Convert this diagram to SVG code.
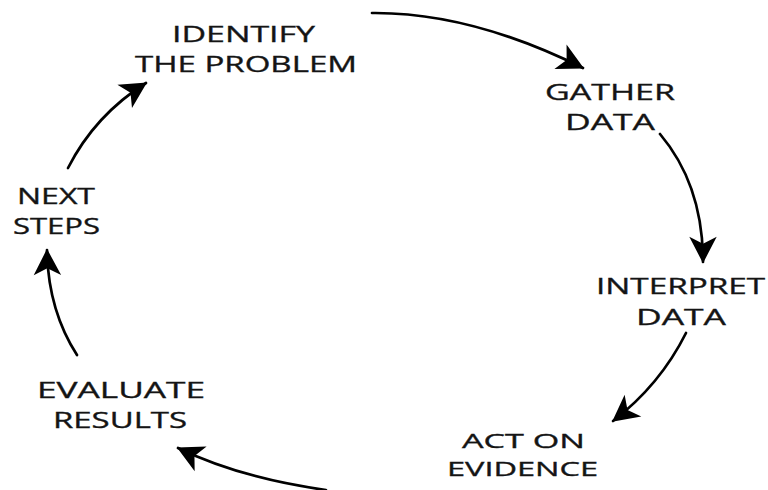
<svg xmlns="http://www.w3.org/2000/svg" width="768" height="490" viewBox="0 0 768 490">
  <defs>
    <style>
      .label { font-family: "Open Sans", "Noto Sans", "DejaVu Sans", sans-serif; font-size: 22px; font-weight: 500; fill: #141414; stroke: #141414; stroke-width: 0.35; text-anchor: middle; }
      .tight { font-size: 20.5px; }
      .edge { fill: none; stroke: #000; stroke-width: 2.7; stroke-linecap: round; }
    </style>
    <marker id="head" markerUnits="userSpaceOnUse" markerWidth="32" markerHeight="32" viewBox="-24 -14 26 28" refX="0" refY="0" orient="auto">
      <path d="M1,0 L-22,-12 L-16,0 L-22,12 Z" fill="#000"/>
    </marker>
  </defs>
  <rect width="768" height="490" fill="#fff"/>

  <!-- cycle connectors -->
  <g id="connectors">
    <path class="edge" marker-end="url(#head)" d="M372,13 Q470,12 583,68"/>
    <path class="edge" marker-end="url(#head)" d="M660,134 Q703,185 703,262"/>
    <path class="edge" marker-end="url(#head)" d="M686,333 Q660,385 613,421"/>
    <path class="edge" marker-end="url(#head)" d="M326,490 Q240,478 178,448"/>
    <path class="edge" marker-end="url(#head)" d="M77,355 Q48,310 47,250"/>
    <path class="edge" marker-end="url(#head)" d="M68,168 Q95,115 146,83"/>
  </g>

  <g id="identify">
    <text class="label" x="243.5" y="41.5" textLength="143" lengthAdjust="spacingAndGlyphs">IDENTIFY</text>
    <text class="label" x="246" y="71.5" textLength="222" lengthAdjust="spacingAndGlyphs">THE PROBLEM</text>
  </g>
  <g id="gather">
    <text class="label" x="610" y="99.5" textLength="130" lengthAdjust="spacingAndGlyphs">GATHER</text>
    <text class="label" x="610" y="129.5" textLength="90" lengthAdjust="spacingAndGlyphs">DATA</text>
  </g>
  <g id="interpret">
    <text class="label" x="680.5" y="293.5" textLength="169" lengthAdjust="spacingAndGlyphs">INTERPRET</text>
    <text class="label" x="681" y="324.5" textLength="90" lengthAdjust="spacingAndGlyphs">DATA</text>
  </g>
  <g id="act">
    <text class="label tight" x="523.5" y="447.5" textLength="123" lengthAdjust="spacingAndGlyphs">ACT ON</text>
    <text class="label tight" x="522.5" y="475.5" textLength="151" lengthAdjust="spacingAndGlyphs">EVIDENCE</text>
  </g>
  <g id="evaluate">
    <text class="label" x="121" y="397.5" textLength="168" lengthAdjust="spacingAndGlyphs">EVALUATE</text>
    <text class="label" x="120" y="427.5" textLength="134" lengthAdjust="spacingAndGlyphs">RESULTS</text>
  </g>
  <g id="next">
    <text class="label" x="56" y="203.5" textLength="78" lengthAdjust="spacingAndGlyphs">NEXT</text>
    <text class="label" x="56.5" y="233.5" textLength="87" lengthAdjust="spacingAndGlyphs">STEPS</text>
  </g>
</svg>
